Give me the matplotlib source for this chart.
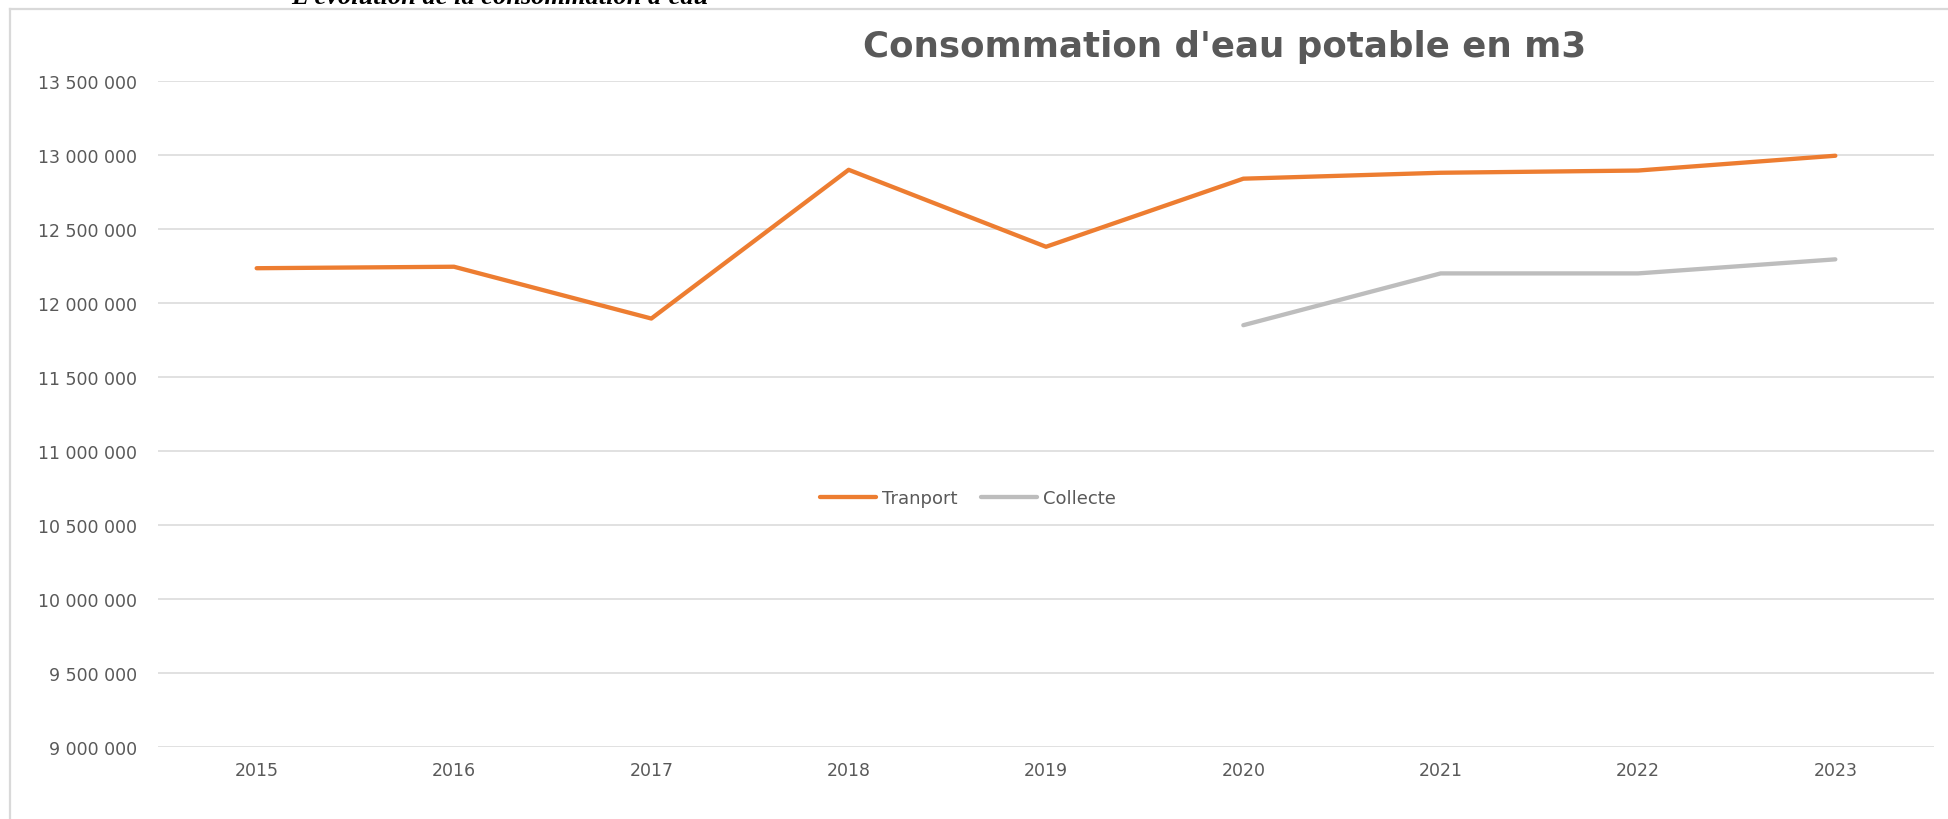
import matplotlib
matplotlib.use("Agg")
import matplotlib.pyplot as plt
from matplotlib.ticker import FuncFormatter, MultipleLocator
from matplotlib.lines import Line2D

# ---- data ----
years = ["2015", "2016", "2017", "2018", "2019", "2020", "2021", "2022", "2023"]
transport = [12235000, 12245000, 11895000, 12900000, 12380000, 12840000, 12880000, 12895000, 12995000]
collecte_years = ["2020", "2021", "2022", "2023"]
collecte = [11850000, 12200000, 12200000, 12295000]
title = "Consommation d'eau potable en m3"
caption = "L'évolution de la consommation d'eau"
series_names = ["Tranport", "Collecte"]

W, H, DPI = 1948, 820, 100
fig = plt.figure(figsize=(W / DPI, H / DPI), dpi=DPI)
fig.patch.set_facecolor("white")
plt.rcParams['font.family'] = ['DejaVu Sans']

def fx(px):
    return px / W

def fy(py):
    return 1 - py / H

ax = fig.add_axes([fx(158), fy(748), fx(1934) - fx(158), fy(82) - fy(748)])

xi = list(range(len(years)))
ci = [years.index(y) for y in collecte_years]
ax.plot(xi, transport, color="#ED7D31", lw=3.1, solid_capstyle="round", solid_joinstyle="round", label=series_names[0], zorder=3)
ax.plot(ci, collecte, color="#BDBDBD", lw=3.1, solid_capstyle="round", solid_joinstyle="round", label=series_names[1], zorder=3)

ax.set_ylim(9000000, 13500000)
ax.set_xlim(-0.5, 8.5)
ax.yaxis.set_major_locator(MultipleLocator(500000))
ax.yaxis.set_major_formatter(FuncFormatter(lambda v, p: f"{int(round(v)):,}".replace(",", " ")))
ax.set_xticks(xi)
ax.set_xticklabels(years)
ax.grid(axis="y", color="#D9D9D9", lw=1.1, zorder=0)
ax.set_axisbelow(True)
for s in ax.spines.values():
    s.set_visible(False)
ax.tick_params(axis="both", length=0, colors="#595959", labelsize=12.5)
ax.tick_params(axis="y", pad=15)
ax.tick_params(axis="x", pad=10)

leg = fig.legend(loc="center", bbox_to_anchor=(fx(968), fy(499)), ncol=2, frameon=False,
                 fontsize=13, handlelength=3.1, handletextpad=0.33, columnspacing=1.33)
for t in leg.get_texts():
    t.set_color("#595959")

fig.text(fx(1225), fy(47.5), title, ha="center", va="center", fontsize=25.7, fontweight="bold", color="#595959")
fig.text(fx(500), fy(4), caption, ha="center", va="baseline", fontsize=19, fontweight="bold",
         fontstyle="italic", family="Liberation Serif", color="black")

# frame of the pasted picture
fig.add_artist(Line2D([fx(10), fx(10)], [fy(10), 0], transform=fig.transFigure, color="#D9D9D9", lw=1.6))
fig.add_artist(Line2D([fx(10), 1], [fy(10), fy(10)], transform=fig.transFigure, color="#D9D9D9", lw=1.6))

fig.savefig("out.png", dpi=DPI, facecolor="white")
